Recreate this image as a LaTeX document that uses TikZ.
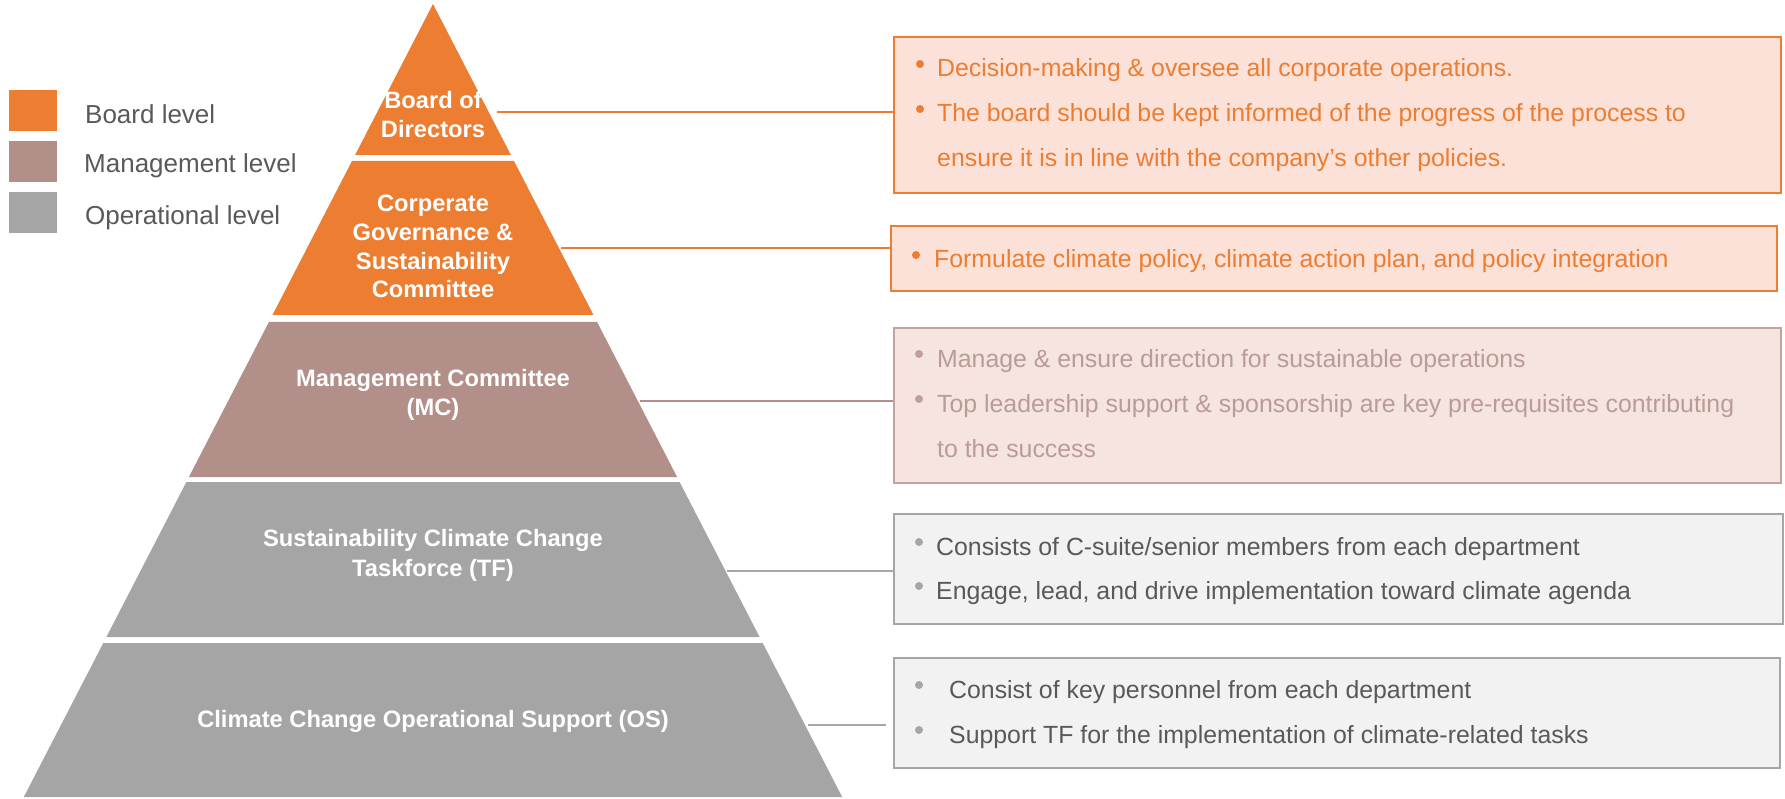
\documentclass[tikz,border=0pt]{standalone}
\usepackage{fontspec}
\setmainfont{Liberation Sans}
\definecolor{orng}{HTML}{ED7D31}
\definecolor{mauve}{HTML}{B38F89}
\definecolor{gry}{HTML}{A5A5A5}
\definecolor{pfill}{HTML}{FBE1D8}
\definecolor{mfill}{HTML}{F5E4DF}
\definecolor{mborder}{HTML}{C4A39E}
\definecolor{mtext}{HTML}{BA9C97}
\definecolor{gfill}{HTML}{F2F2F2}
\definecolor{gborder}{HTML}{A6A6A6}
\definecolor{dtext}{HTML}{595959}
\begin{document}
\begin{tikzpicture}[x=1pt,y=-1pt,
  tiertext/.style={text=white, font=\fontsize{23.7}{28}\selectfont\bfseries, anchor=base, inner sep=0pt},
  legtext/.style={text=dtext, font=\fontsize{26}{31}\selectfont, anchor=base west, inner sep=0pt},
  boxtext/.style={font=\fontsize{24.85}{30}\selectfont, anchor=base west, inner sep=0pt},
  infobox/.style={draw, line width=2pt, anchor=north west, inner sep=0pt},
  legsq/.style={anchor=north west, inner sep=0pt, minimum width=48pt, minimum height=41pt},
  conn/.style={line width=1.6pt}
]
\useasboundingbox (0,0) rectangle (1785,799);

% legend
\node[legsq, fill=orng] (lg1) at (9,90) {};
\node[legsq, fill=mauve] (lg2) at (9,141) {};
\node[legsq, fill=gry] (lg3) at (9,192) {};
\node[legtext] (lt1) at (85,124) {Board level};
\node[legtext] (lt2) at (84,173) {Management level};
\node[legtext] (lt3) at (85,225) {Operational level};

% pyramid tiers
\fill[orng] (433,4) -- (510.9,155) -- (355.1,155) -- cycle;
\fill[orng] (352,161) -- (514,161) -- (593.5,315) -- (272.5,315) -- cycle;
\fill[mauve] (268.9,322) -- (597.1,322) -- (677.1,477) -- (188.9,477) -- cycle;
\fill[gry] (186.4,482) -- (679.6,482) -- (759.6,637) -- (106.4,637) -- cycle;
\fill[gry] (103.3,643) -- (762.7,643) -- (842.2,797) -- (23.8,797) -- cycle;

% tier texts
\node[tiertext] (t1a) at (433,109) {Board of};
\node[tiertext] (t1b) at (433,138) {Directors};
\node[tiertext] (t2a) at (433,212) {Corperate};
\node[tiertext] (t2b) at (433,241) {Governance \&};
\node[tiertext] (t2c) at (433,270) {Sustainability};
\node[tiertext] (t2d) at (433,298) {Committee};
\node[tiertext] (t3a) at (433,386) {Management Committee};
\node[tiertext] (t3b) at (433,415) {(MC)};
\node[tiertext] (t4a) at (433,546) {Sustainability Climate Change};
\node[tiertext] (t4b) at (433,576) {Taskforce (TF)};
\node[tiertext] (t5a) at (433,727) {Climate Change Operational Support (OS)};

% info boxes
\node[infobox, draw=orng, fill=pfill, minimum width=887pt, minimum height=156pt] (b1) at (893,36) {};
\node[infobox, draw=orng, fill=pfill, minimum width=886pt, minimum height=65pt] (b2) at (890,225) {};
\node[infobox, draw=mborder, fill=mfill, minimum width=887pt, minimum height=155pt] (b3) at (893,327) {};
\node[infobox, draw=gborder, fill=gfill, minimum width=889pt, minimum height=110pt] (b4) at (893,513) {};
\node[infobox, draw=gborder, fill=gfill, minimum width=886pt, minimum height=110pt] (b5) at (893,657) {};

% box 1
\fill[orng] (920,64) circle (4pt);
\fill[orng] (920,109) circle (4pt);
\node[boxtext, text=orng] (x1a) at (937,77) {Decision-making \& oversee all corporate operations.};
\node[boxtext, text=orng] (x1b) at (937,122) {The board should be kept informed of the progress of the process to};
\node[boxtext, text=orng] (x1c) at (937,167) {ensure it is in line with the company’s other policies.};
% box 2
\fill[orng] (916,255) circle (4pt);
\node[boxtext, text=orng] (x2a) at (934,268) {Formulate climate policy, climate action plan, and policy integration};
% box 3
\fill[mauve!85] (919,354) circle (4pt);
\fill[mauve!85] (919,399) circle (4pt);
\node[boxtext, text=mtext] (x3a) at (937,367) {Manage \& ensure direction for sustainable operations};
\node[boxtext, text=mtext] (x3b) at (937,412) {Top leadership support \& sponsorship are key pre-requisites contributing};
\node[boxtext, text=mtext] (x3c) at (937,457) {to the success};
% box 4
\fill[gborder] (919,542) circle (4pt);
\fill[gborder] (919,586) circle (4pt);
\node[boxtext, text=dtext] (x4a) at (936,555) {Consists of C-suite/senior members from each department};
\node[boxtext, text=dtext] (x4b) at (936,599) {Engage, lead, and drive implementation toward climate agenda};
% box 5
\fill[gborder] (919,685) circle (4pt);
\fill[gborder] (919,730) circle (4pt);
\node[boxtext, text=dtext] (x5a) at (949,698) {Consist of key personnel from each department};
\node[boxtext, text=dtext] (x5b) at (949,743) {Support TF for the implementation of climate-related tasks};

% connectors
\coordinate (s1) at (497,112);
\coordinate (s2) at (561,248);
\coordinate (s3) at (640,401);
\coordinate (s4) at (727,571);
\coordinate (s5) at (808,725);
\coordinate (e5) at (886,725);
\draw[conn, orng] (s1) -- (s1 -| b1.west);
\draw[conn, orng] (s2) -- (s2 -| b2.west);
\draw[conn, mauve] (s3) -- (s3 -| b3.west);
\draw[conn, gborder] (s4) -- (s4 -| b4.west);
\draw[conn, gborder] (s5) -- (e5);
\end{tikzpicture}
\end{document}
